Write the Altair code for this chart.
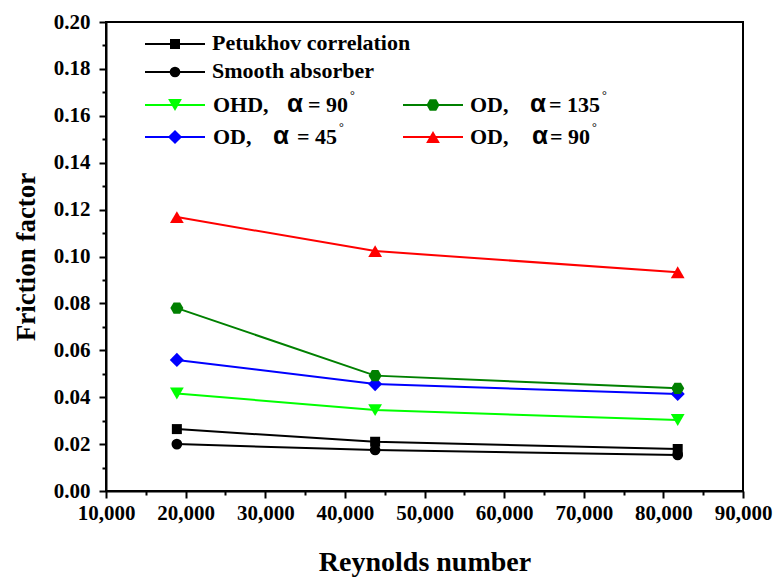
import altair as alt
import pandas as pd

# Reynolds numbers at which friction factor was evaluated
reynolds = [18900, 43800, 81800]

# Friction factor for each configuration
petukhov = [0.0264, 0.0210, 0.0179]
smooth = [0.0200, 0.0175, 0.0154]
ohd_90 = [0.0416, 0.0345, 0.0303]
od_45 = [0.0559, 0.0456, 0.0414]
od_135 = [0.0780, 0.0492, 0.0438]
od_90 = [0.1168, 0.1023, 0.0933]

series_names = ["Petukhov correlation", "Smooth absorber", "OHD, α = 90°",
                "OD, α = 45°", "OD, α = 135°", "OD, α = 90°"]
series_values = [petukhov, smooth, ohd_90, od_45, od_135, od_90]

y_ticks = [0.0, 0.02, 0.04, 0.06, 0.08, 0.10, 0.12, 0.14, 0.16, 0.18, 0.20]
y_minor = [0.01, 0.03, 0.05, 0.07, 0.09, 0.11, 0.13, 0.15, 0.17, 0.19]
x_ticks = [10000, 20000, 30000, 40000, 50000, 60000, 70000, 80000, 90000]
x_minor = [15000, 25000, 35000, 45000, 55000, 65000, 75000, 85000]

hexagon = "M-1,0L-0.5,-0.866L0.5,-0.866L1,0L0.5,0.866L-0.5,0.866Z"
styles = {
    "Petukhov correlation": dict(color="#000000", shape="square", size=100),
    "Smooth absorber": dict(color="#000000", shape="circle", size=115),
    "OHD, α = 90°": dict(color="#00FF00", shape="triangle-down", size=190),
    "OD, α = 45°": dict(color="#0000FF", shape="diamond", size=200),
    "OD, α = 135°": dict(color="#008000", shape=hexagon, size=170),
    "OD, α = 90°": dict(color="#FF0000", shape="triangle-up", size=190),
}

rows = []
for name, vals in zip(series_names, series_values):
    for re, f in zip(reynolds, vals):
        rows.append({"series": name, "Re": re, "f": f})
df = pd.DataFrame(rows)

SERIF = "Liberation Serif"
SANS = "Liberation Sans"
x_scale = alt.Scale(domain=[10000, 90000], nice=False)
y_scale = alt.Scale(domain=[0, 0.2], nice=False)

# Data layers: one line + markers per configuration
layers = []
for name in series_names:
    st = styles[name]
    sub = alt.Chart(df).transform_filter(alt.datum.series == name)
    enc = dict(
        x=alt.X("Re:Q", scale=x_scale, axis=None),
        y=alt.Y("f:Q", scale=y_scale, axis=None),
    )
    layers.append(sub.mark_line(color=st["color"], strokeWidth=2).encode(**enc))
    layers.append(sub.mark_point(color=st["color"], filled=True, opacity=1,
                                 shape=st["shape"], size=st["size"]).encode(**enc))

# Axis layers: minor ticks, then major ticks with labels and titles
axis_common = dict(domainColor="black", domainWidth=2, tickColor="black",
                   tickWidth=2, grid=False)
label_style = dict(labelFont=SERIF, labelFontWeight="bold", labelFontSize=21,
                   labelColor="black", labelFlush=False, labelOverlap=False)
title_style = dict(titleFont=SERIF, titleFontWeight="bold", titleColor="black")

minor_axes = alt.Chart(df).mark_point(opacity=0).encode(
    x=alt.X("Re:Q", scale=x_scale,
            axis=alt.Axis(values=x_minor, tickSize=4, labels=False, domain=False,
                          title=None, orient="bottom", offset=0, **axis_common)),
    y=alt.Y("f:Q", scale=y_scale,
            axis=alt.Axis(values=y_minor, tickSize=4, labels=False, domain=False,
                          title=None, orient="left", offset=0, **axis_common)),
)
major_axes = alt.Chart(df).mark_point(opacity=0).encode(
    x=alt.X("Re:Q", scale=x_scale,
            axis=alt.Axis(values=x_ticks, format=",d", tickSize=7, orient="bottom",
                          offset=0, labelPadding=4, title="Reynolds number",
                          titleFontSize=28, titlePadding=25,
                          **label_style, **title_style, **axis_common)),
    y=alt.Y("f:Q", scale=y_scale,
            axis=alt.Axis(values=y_ticks, format=".2f", tickSize=7, orient="left",
                          offset=0, labelPadding=9, title="Friction factor",
                          titleFontSize=27, titlePadding=13,
                          **label_style, **title_style, **axis_common)),
)

# Hand-built legend in the upper-left of the plot
one = pd.DataFrame({"k": [0]})


def legend_symbol(name, x0, yrow):
    st = styles[name]
    line = alt.Chart(one).mark_rule(color=st["color"], strokeWidth=2).encode(
        x=alt.value(x0), x2=alt.value(x0 + 60), y=alt.value(yrow))
    pt = alt.Chart(one).mark_point(color=st["color"], filled=True, opacity=1,
                                   shape=st["shape"], size=st["size"]).encode(
        x=alt.value(x0 + 30), y=alt.value(yrow))
    return [line, pt]


def legend_text(text, x, y, size=22, font=SERIF, weight="bold"):
    return alt.Chart(one).mark_text(text=text, font=font, fontSize=size,
                                    fontWeight=weight, color="black",
                                    align="left", baseline="alphabetic").encode(
        x=alt.value(x), y=alt.value(y))


def legend_entry(prefix, angle, x0, base, xa, xe, xd):
    return [legend_text(prefix, x0, base),
            legend_text("α", xa, base, size=26, font=SANS),
            legend_text("= " + angle, xe, base),
            legend_text("°", xd, base - 13, size=12, weight="normal")]


legend = []
legend += legend_symbol("Petukhov correlation", 39, 22)
legend.append(legend_text("Petukhov correlation", 106, 28))
legend += legend_symbol("Smooth absorber", 39, 50)
legend.append(legend_text("Smooth absorber", 106, 56))
legend += legend_symbol("OHD, α = 90°", 39, 83)
legend += legend_entry("OHD,", "90", 107, 90, 181, 202, 244)
legend += legend_symbol("OD, α = 135°", 297, 83)
legend += legend_entry("OD,", "135", 364, 90, 424, 443, 496)
legend += legend_symbol("OD, α = 45°", 39, 115)
legend += legend_entry("OD,", "45", 107, 122, 167, 191, 233)
legend += legend_symbol("OD, α = 90°", 297, 115)
legend += legend_entry("OD,", "90", 364, 122, 426, 444, 486)

chart = alt.layer(minor_axes, major_axes, *layers, *legend).resolve_axis(
    x="independent", y="independent"
).properties(
    width=637, height=469,
    autosize=alt.AutoSizeParams(type="none"),
    padding={"left": 106, "top": 22, "right": 38, "bottom": 88},
    background="white",
).configure_view(stroke="black", strokeWidth=2)

chart.save("out.html", embed_options={"renderer": "svg", "actions": False})
